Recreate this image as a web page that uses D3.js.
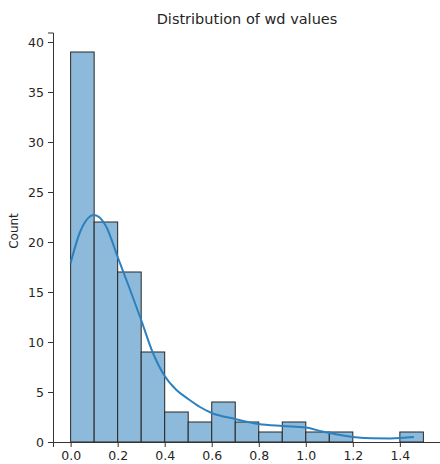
<!DOCTYPE html>
<html>
<head>
<meta charset="utf-8">
<script src="https://cdn.jsdelivr.net/npm/d3@7"></script>
<style>
  body { margin: 0; background: #fff; }
  text { font-family: "DejaVu Sans", sans-serif; fill: #262626; }
</style>
</head>
<body>
<div id="chart"></div>
<script>
// histogram bins (wd, width 0.1) and counts
var binStart = [0.0, 0.1, 0.2, 0.3, 0.4, 0.5, 0.6, 0.7, 0.8, 0.9, 1.0, 1.1, 1.2, 1.3, 1.4];
var counts = [39, 22, 17, 9, 3, 2, 4, 2, 1, 2, 1, 1, 0, 0, 1];
var binWidth = 0.1;

// kde line (x, count)
var kdeX = [0.0, 0.04, 0.1, 0.15, 0.2, 0.25, 0.3, 0.35, 0.4, 0.45, 0.5, 0.55, 0.6, 0.7, 0.8, 0.9, 1.0, 1.07, 1.14, 1.21, 1.28, 1.36, 1.46];
var kdeY = [17.9, 21.0, 22.7, 21.6, 18.5, 15.4, 12.2, 8.9, 6.6, 5.2, 4.3, 3.5, 2.9, 2.3, 1.8, 1.6, 1.45, 1.05, 0.72, 0.48, 0.37, 0.36, 0.5];

var xTicks = [0.0, 0.2, 0.4, 0.6, 0.8, 1.0, 1.2, 1.4];
var yTicks = [0, 5, 10, 15, 20, 25, 30, 35, 40];

var chart_width = 440;
var chart_height = 464;
var margin = { left: 53, right: -1, top: 32.5, bottom: 22 };

var svg = d3
  .select('#chart')
  .append('svg')
  .attr('width', chart_width)
  .attr('height', chart_height);

// scales (matplotlib style 5% margin on x)
var x_scale = d3
  .scaleLinear()
  .domain([-0.075, 1.575])
  .range([margin.left, chart_width - margin.right]);
var y_scale = d3
  .scaleLinear()
  .domain([0, 40.95])
  .range([chart_height - margin.bottom, margin.top]);

// bars
var bins = binStart
  .map(function(b, i) { return { x0: b, c: counts[i] }; })
  .filter(function(d) { return d.c > 0; });

svg
  .selectAll('rect.bar')
  .data(bins)
  .enter()
  .append('rect')
  .attr('class', 'bar')
  .attr('x', function(d) { return x_scale(d.x0); })
  .attr('y', function(d) { return y_scale(d.c); })
  .attr('width', x_scale(binWidth) - x_scale(0))
  .attr('height', function(d) { return y_scale(0) - y_scale(d.c); })
  .attr('fill', '#8dbadb')
  .attr('stroke', '#262626')
  .attr('stroke-width', 1);

// kde
var line = d3
  .line()
  .x(function(d, i) { return x_scale(kdeX[i]); })
  .y(function(d) { return y_scale(d); })
  .curve(d3.curveMonotoneX);
svg
  .append('path')
  .attr('d', line(kdeY))
  .attr('fill', 'none')
  .attr('stroke', '#2b80bf')
  .attr('stroke-width', 2);

// axes
var x_axis = d3.axisBottom(x_scale).tickValues(xTicks).tickFormat(d3.format('.1f')).tickSizeOuter(0).tickSize(5).tickPadding(4);
var y_axis = d3.axisLeft(y_scale).tickValues(yTicks).tickSizeOuter(0).tickSize(5).tickPadding(4);

var gx = svg.append('g')
  .attr('transform', 'translate(0,' + y_scale(0) + ')')
  .call(x_axis);
var gy = svg.append('g')
  .attr('transform', 'translate(' + margin.left + ',0)')
  .call(y_axis);

[gx, gy].forEach(function(g) {
  g.selectAll('path, line').attr('stroke', '#333').attr('stroke-width', 1);
  g.selectAll('text').style('font-size', '12.5px').style('font-family', '"DejaVu Sans", sans-serif').attr('fill', '#333');
});

svg.append('text')
  .attr('transform', 'translate(14,231) rotate(-90)')
  .attr('text-anchor', 'middle')
  .attr('dominant-baseline', 'middle')
  .style('font-size', '12px')
  .attr('fill', '#333')
  .text('Count');

svg.append('text')
  .attr('x', (x_scale.range()[0] + x_scale.range()[1]) / 2)
  .attr('y', 24)
  .attr('text-anchor', 'middle')
  .style('font-size', '14.5px')
  .attr('fill', '#333')
  .text('Distribution of wd values');
</script>
</body>
</html>
